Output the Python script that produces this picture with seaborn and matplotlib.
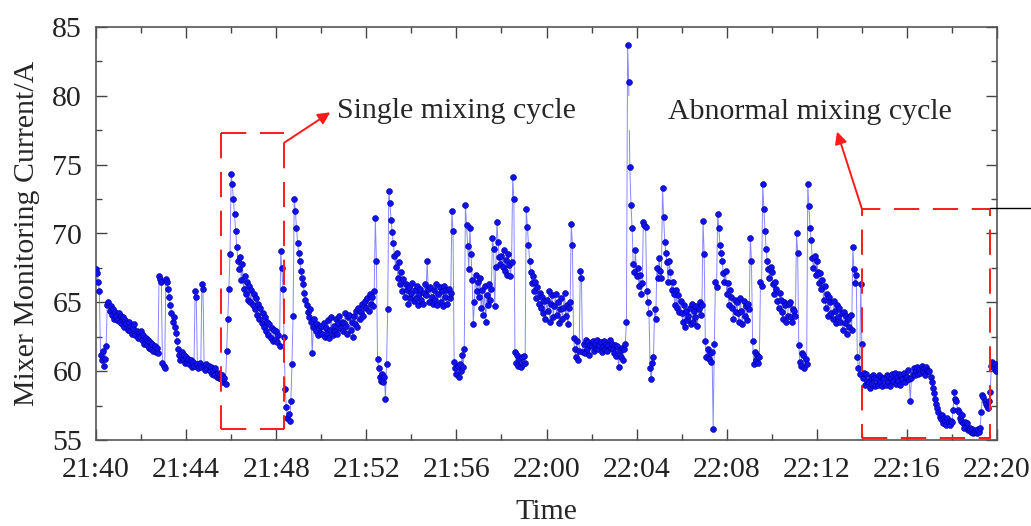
import numpy as np
import pandas as pd
import matplotlib
matplotlib.use("Agg")
import matplotlib.pyplot as plt
import matplotlib.dates as mdates
from matplotlib.patches import Rectangle
from matplotlib.lines import Line2D
import seaborn as sns

# ---- data: mixer current sampled every 3 s from 21:40 to 22:20 (one row per minute) ----
start_time = "2020-01-01 21:40:00"
step_seconds = 3
current = [
    67.4, 67.1, 66.5, 65.8, 61.2, 60.8, 61.5, 60.4, 60.9, 61.8, 64.8, 65.0, 64.4, 64.7, 64.1, 64.5, 63.8, 64.3, 64.0, 63.7,
    64.2, 63.6, 64.0, 63.4, 63.9, 63.2, 63.7, 63.5, 63.0, 63.6, 62.9, 63.3, 62.7, 63.1, 63.4, 62.6, 62.9, 62.4, 62.8, 62.5,
    62.9, 62.3, 62.6, 62.0, 62.4, 61.9, 62.3, 61.7, 62.1, 61.6, 62.0, 61.5, 61.8, 61.4, 61.7, 61.3, 66.9, 66.7, 66.5, 60.6,
    60.4, 60.2, 66.7, 66.5, 66.0, 65.4, 64.8, 64.2, 63.6, 63.9, 63.2, 62.8, 62.2, 61.6, 61.2, 60.8, 61.4, 60.9, 61.2, 60.6,
    61.0, 60.7, 60.9, 60.5, 60.8, 60.3, 60.7, 60.4, 65.8, 65.4, 60.5, 60.2, 60.6, 60.3, 66.3, 66.0, 60.4, 60.1, 60.5, 60.2,
    60.4, 60.0, 60.3, 59.8, 60.1, 59.7, 60.2, 59.6, 59.9, 59.5, 59.8, 59.4, 59.7, 59.2, 59.5, 59.1, 61.5, 63.8, 66.0, 68.5,
    74.3, 73.6, 72.5, 71.4, 70.2, 69.0, 68.0, 67.4, 68.3, 66.6, 67.8, 66.0, 66.9, 65.6, 66.5, 65.2, 66.2, 65.0, 65.9, 64.8,
    65.6, 64.5, 65.3, 64.1, 64.9, 63.8, 64.6, 63.5, 64.2, 63.2, 63.9, 62.9, 63.6, 62.6, 63.4, 62.4, 63.1, 62.2, 63.0, 62.3,
    62.9, 62.1, 62.6, 61.8, 68.7, 67.5, 66.0, 62.5, 58.7, 57.4, 56.6, 56.9, 56.4, 57.8, 60.5, 64.0, 72.5, 71.6, 70.4, 69.3,
    68.6, 68.0, 67.3, 66.8, 66.3, 65.7, 65.2, 64.8, 64.3, 63.9, 64.5, 63.6, 61.3, 63.2, 63.8, 62.9, 63.4, 62.6, 63.1, 62.8,
    63.3, 62.7, 63.5, 62.5, 63.1, 62.8, 63.7, 62.4, 63.0, 63.9, 62.6, 63.3, 62.9, 63.8, 62.7, 63.5, 64.0, 63.1, 63.6, 62.9,
    63.5, 64.2, 63.3, 62.7, 63.9, 64.1, 63.0, 63.6, 62.5, 64.0, 63.4, 64.4, 63.2, 64.6, 63.8, 64.3, 64.9, 64.0, 64.7, 65.1,
    64.6, 65.3, 64.4, 65.6, 64.9, 65.4, 64.7, 65.8, 71.1, 68.0, 60.9, 60.2, 59.6, 59.3, 59.8, 59.2, 59.6, 58.0, 60.5, 64.5,
    73.1, 72.2, 71.0, 70.1, 69.3, 68.4, 67.6, 68.6, 66.8, 67.9, 66.3, 67.2, 65.8, 66.7, 65.4, 66.3, 65.9, 64.9, 66.1, 65.3,
    65.7, 66.4, 65.1, 65.9, 65.3, 66.2, 64.8, 65.6, 66.0, 65.2, 64.9, 65.7, 66.3, 65.5, 68.0, 66.0, 65.0, 66.1, 65.4, 64.9,
    65.9, 65.2, 66.3, 64.8, 65.6, 66.1, 65.0, 65.8, 64.7, 66.2, 65.4, 65.9, 64.9, 66.0, 65.3, 65.7, 71.6, 70.2, 60.7, 60.2,
    59.8, 60.4, 59.6, 60.5, 60.0, 61.2, 60.3, 61.6, 72.1, 70.6, 69.1, 67.4, 70.4, 68.5, 66.6, 63.4, 65.0, 67.0, 65.8, 66.5,
    65.4, 66.8, 64.6, 65.9, 64.1, 66.2, 63.6, 65.5, 64.8, 66.3, 65.2, 66.0, 69.7, 68.9, 64.7, 67.6, 70.8, 69.4, 68.3, 67.8,
    68.4, 67.6, 68.8, 67.3, 68.1, 67.0, 68.5, 67.7, 66.9, 67.9, 74.1, 72.5, 61.4, 60.6, 61.2, 60.4, 60.9, 60.3, 61.0, 60.5,
    61.1, 60.6, 71.8, 70.5, 69.2, 68.0, 67.2, 66.4, 66.9, 65.8, 66.5, 65.3, 66.1, 64.9, 65.7, 64.6, 65.4, 64.2, 65.1, 63.8,
    65.2, 64.4, 65.8, 63.6, 64.9, 65.5, 63.9, 64.7, 65.6, 64.1, 65.0, 63.5, 64.5, 65.3, 63.8, 64.6, 65.7, 64.0, 64.8, 63.4,
    64.6, 65.0, 70.7, 69.2, 62.4, 61.6, 61.0, 62.2, 60.8, 61.5, 67.3, 66.8, 61.4, 62.0, 61.3, 62.3, 61.6, 62.1, 61.2, 61.9,
    61.8, 62.2, 61.5, 62.0, 61.7, 62.3, 61.6, 61.9, 62.1, 61.4, 61.8, 62.2, 61.6, 62.0, 61.5, 61.9, 62.3, 61.7, 62.0, 61.6,
    61.3, 61.9, 61.1, 61.8, 60.3, 61.5, 61.0, 61.7, 60.8, 61.6, 62.0, 63.6, 83.7, 81.0, 74.8, 72.1, 70.4, 67.8, 67.2, 68.8,
    66.9, 67.5, 66.2, 67.0, 65.6, 66.4, 70.8, 70.6, 70.5, 65.8, 65.0, 64.2, 60.2, 59.4, 60.6, 61.0, 64.5, 63.8, 67.5, 66.8,
    68.2, 67.3, 66.8, 73.3, 71.2, 69.4, 68.6, 67.9, 66.5, 68.0, 67.2, 65.9, 66.5, 65.6, 64.8, 65.9, 64.6, 65.5, 64.3, 65.1,
    64.2, 63.6, 64.8, 63.2, 64.4, 63.7, 64.0, 64.6, 63.4, 64.9, 63.6, 64.4, 63.9, 64.7, 63.3, 64.5, 65.0, 64.1, 64.8, 70.9,
    68.5, 62.2, 61.0, 61.6, 60.9, 61.3, 60.7, 61.4, 55.8, 62.0, 66.5, 66.1, 71.4, 70.4, 69.2, 68.6, 68.0, 67.1, 66.5, 67.3,
    65.6, 66.4, 64.8, 65.9, 65.4, 64.6, 63.8, 65.2, 64.3, 65.0, 64.2, 63.6, 65.3, 64.4, 63.4, 65.1, 64.0, 64.7, 63.7, 64.9,
    64.5, 69.7, 68.0, 62.2, 60.5, 61.4, 60.8, 61.2, 60.6, 61.0, 66.5, 66.2, 73.6, 71.8, 70.2, 68.9, 68.0, 67.4, 66.8, 67.6,
    67.2, 66.3, 65.6, 66.5, 66.0, 65.1, 64.6, 65.7, 65.2, 64.3, 63.8, 65.0, 64.8, 63.6, 64.0, 64.9, 65.0, 63.9, 63.6, 64.5,
    64.4, 64.0, 70.0, 68.6, 61.9, 60.7, 60.4, 61.3, 61.2, 60.2, 60.9, 60.5, 73.6, 72.0, 70.4, 69.5, 68.2, 67.5, 68.4, 67.0,
    68.0, 67.2, 66.4, 67.1, 66.0, 66.6, 65.2, 66.2, 64.6, 65.6, 64.0, 65.4, 65.0, 64.2, 63.8, 65.1, 64.4, 63.5, 64.8, 63.9,
    64.6, 63.6, 64.2, 63.0, 64.3, 63.5, 64.0, 62.7, 63.8, 63.2, 64.1, 63.0, 69.0, 67.4, 66.4, 67.0, 61.0, 60.2, 59.8, 66.3,
    62.0, 59.5, 59.9, 59.0, 59.8, 59.3, 59.2, 58.8, 59.6, 59.1, 59.7, 59.5, 58.9, 59.4, 59.0, 59.7, 59.2, 59.6, 58.9, 59.5,
    59.4, 59.0, 59.7, 59.2, 59.6, 58.9, 59.5, 59.8, 59.3, 59.9, 59.1, 59.6, 59.3, 59.8, 59.0, 59.7, 59.4, 59.9, 59.2, 59.6,
    59.6, 60.1, 59.4, 57.8, 59.5, 59.8, 60.2, 59.7, 60.0, 60.3, 59.8, 60.1, 59.9, 60.4, 60.0, 60.2, 59.7, 60.3, 60.1, 60.0,
    60.0, 59.6, 59.2, 58.8, 58.4, 58.0, 57.6, 57.3, 57.0, 56.7, 56.5, 56.8, 56.2, 56.6, 56.4, 56.1, 56.6, 56.3, 56.1, 56.4,
    56.3, 57.2, 58.5, 58.0, 57.8, 57.2, 57.0, 56.6, 56.4, 56.8, 56.2, 55.9, 56.3, 56.2, 55.7, 55.8, 55.9, 55.6, 55.8, 55.5,
    55.6, 55.7, 55.5, 55.8, 55.6, 55.9, 57.0, 58.3, 58.1, 57.8, 57.6, 57.5, 57.3, 57.8, 58.5, 60.4, 60.7, 60.2, 60.5, 60.0,
    60.3,
]
x_tick_labels = ["21:40", "21:44", "21:48", "21:52", "21:56", "22:00",
                 "22:04", "22:08", "22:12", "22:16", "22:20"]
y_ticks = [55, 60, 65, 70, 75, 80, 85]
annot_single = "Single mixing cycle"
annot_abnormal = "Abnormal mixing cycle"
x_label = "Time"
y_label = "Mixer Monitoring Current/A"

base = pd.Timestamp(start_time)
times = base + pd.to_timedelta(np.arange(len(current)) * step_seconds, unit="s")
df = pd.DataFrame({"Time": times, "Current": current})

sns.set_theme(style="ticks")
plt.rcParams["font.family"] = ["Liberation Serif", "DejaVu Serif"]

fig = plt.figure(figsize=(10.31, 5.26), dpi=100)
ax = fig.add_axes([96 / 1031, 1 - 440 / 526, (997 - 96) / 1031, (440 - 27) / 526])

sns.lineplot(data=df, x="Time", y="Current", ax=ax, color="#5555ff",
             linewidth=0.7, alpha=0.7, zorder=2)
sns.scatterplot(data=df, x="Time", y="Current", ax=ax, color="#1010f0",
                edgecolor="#000090", linewidth=0.4, s=18, zorder=3)


def tm(minutes):
    return mdates.date2num(base + pd.Timedelta(minutes=minutes))


ax.set_xlim(tm(0), tm(40))
ax.set_ylim(55, 85)
ax.set_yticks(y_ticks)
ax.set_yticks(np.arange(55, 85.1, 2.5), minor=True)
ax.set_xticks([tm(4 * i) for i in range(len(x_tick_labels))])
ax.set_xticklabels(x_tick_labels)
ax.set_xticks([tm(2 * i) for i in range(21)], minor=True)

fs = 21.5
ax.tick_params(axis="both", which="major", direction="in", length=8, width=1.0,
               labelsize=fs, top=True, right=True, color="#444444")
ax.tick_params(axis="x", which="major", pad=12)
ax.tick_params(axis="y", which="major", pad=10)
ax.tick_params(axis="both", which="minor", direction="in", length=4, width=1.0,
               top=True, right=True, color="#444444")
for lab in ax.get_xticklabels() + ax.get_yticklabels():
    lab.set_color("#222222")
for sp in ax.spines.values():
    sp.set_color("#555555")
    sp.set_linewidth(1.2)

ax.set_xlabel(x_label, fontsize=fs, labelpad=12)
ax.set_ylabel(y_label, fontsize=fs, labelpad=9)

red = "#ff1a1a"
dash = (0, (13, 7))
# single cycle box (top-right corner left open, arrow leaves from right edge)
x0, x1, yb, yt, yr = tm(5.56), tm(8.36), 55.8, 77.3, 76.6
for xs, ys in [([x0, x1], [yt, yt]), ([x0, x0], [yt, yb]),
               ([x0, x1], [yb, yb]), ([x1, x1], [yr, yb])]:
    ax.plot(xs, ys, color=red, linewidth=1.4, linestyle=dash, zorder=4)
ax.annotate("", xy=(tm(10.4), 78.8), xytext=(x1, yr),
            arrowprops=dict(arrowstyle="-|>", color=red, lw=1.4, mutation_scale=18,
                            shrinkA=0, shrinkB=0), zorder=5)
ax.text(tm(10.7), 78.9, annot_single, fontsize=fs, ha="left", va="center", zorder=6)

# abnormal cycle box
ax.add_patch(Rectangle((tm(34.0), 55.15), tm(39.7) - tm(34.0), 71.8 - 55.15,
                       fill=False, edgecolor=red, linewidth=1.4, linestyle=dash, zorder=4))
ax.annotate("", xy=(tm(32.9), 77.4), xytext=(tm(34.0), 71.8),
            arrowprops=dict(arrowstyle="-|>", color=red, lw=1.4, mutation_scale=18,
                            shrinkA=0, shrinkB=0), zorder=5)
ax.add_patch(Rectangle((tm(23.62), 77.5), tm(38.5) - tm(23.62), 2.5,
                       facecolor="white", edgecolor="none", zorder=5))
ax.text(tm(25.4), 78.8, annot_abnormal, fontsize=fs, ha="left", va="center", zorder=6)

# short black marker line outside the right spine
fig.add_artist(Line2D([990 / 1031, 1.0], [1 - 208 / 526, 1 - 208 / 526],
                      color="black", linewidth=1.0))

fig.savefig("out.png", dpi=100)
